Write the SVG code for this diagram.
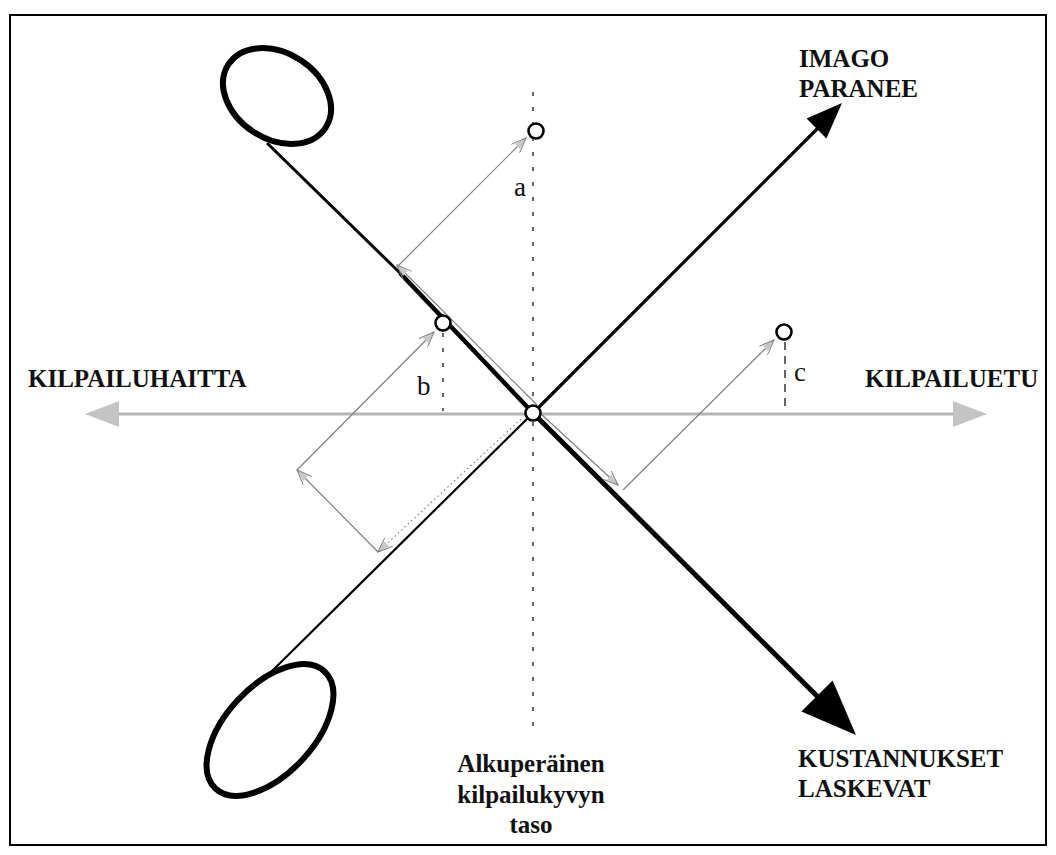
<svg xmlns="http://www.w3.org/2000/svg" width="1056" height="855" viewBox="0 0 1056 855">
<style>
.lbl{font-family:"Liberation Serif","Times New Roman",serif;font-weight:bold;font-size:25px;fill:#111}
.let{font-family:"Liberation Serif","Times New Roman",serif;font-size:27px;fill:#111}
.blk{stroke:#000;fill:none;stroke-linecap:butt}
.thin{stroke:#808080;stroke-width:1.2;fill:none;marker-end:url(#ga)}
.pt{fill:#fff;stroke:#000;stroke-width:2.6}
.dash{stroke:#000;stroke-width:1.2;fill:none;stroke-dasharray:4 11}
</style>
<defs>
<marker id="ga" viewBox="0 0 16 12" refX="15" refY="6" markerWidth="16" markerHeight="12" markerUnits="userSpaceOnUse" orient="auto">
<path d="M3,2.5 L15,6 L3,9.5 Z" fill="#c8c8c8"/>
<path d="M0,0 L15,6 L0,12" fill="none" stroke="#808080" stroke-width="1"/>
</marker>
</defs>
<rect x="10" y="15" width="1036" height="830" fill="#fff" stroke="#000" stroke-width="2"/>

<g id="axis-vertical">
<line class="dash" x1="533" y1="92" x2="533" y2="732"/>
</g>

<g id="axis-horizontal">
<line x1="115" y1="414" x2="957" y2="414" stroke="#b4b4b4" stroke-width="3"/>
<polygon points="85,414 119,401 119,427" fill="#c4c4c4"/>
<polygon points="987,414 953,401 953,427" fill="#c4c4c4"/>
</g>

<g id="loop-top">
<ellipse cx="277" cy="96" rx="58" ry="43" transform="rotate(33 277 96)" fill="none" stroke="#000" stroke-width="6"/>
</g>
<g id="loop-bottom">
<ellipse cx="270" cy="730" rx="80" ry="44" transform="rotate(-47 270 730)" fill="none" stroke="#000" stroke-width="6"/>
</g>

<g id="connectors">
<line class="blk" stroke-width="3" x1="267" y1="143" x2="400" y2="273"/>
<line class="blk" stroke-width="4.5" x1="400" y1="273" x2="533" y2="413"/>
<line class="blk" stroke-width="5" x1="533" y1="413" x2="820" y2="699"/>
<polygon points="856,735 832.6,680.4 801.4,711.6" fill="#000"/>
<line class="blk" stroke-width="2.2" x1="270" y1="673" x2="533" y2="413"/>
<line class="blk" stroke-width="3.2" x1="533" y1="413" x2="819" y2="127"/>
<polygon points="842,103 806.6,118.6 826.4,138.4" fill="#000"/>

<line class="dash" x1="443" y1="333" x2="443" y2="411"/>
<line x1="785" y1="342" x2="785" y2="406" stroke="#000" stroke-width="1.2" stroke-dasharray="8 6"/>

<line class="thin" x1="537" y1="405" x2="397" y2="265"/>
<line class="thin" x1="397" y1="267" x2="526" y2="138"/>
<line class="thin" x1="540" y1="413" x2="618" y2="485"/>
<line class="thin" x1="623" y1="490" x2="774" y2="340"/>
<line class="thin" x1="521" y1="419" x2="378" y2="552" stroke="#333" stroke-width="1.5" stroke-dasharray="1.5 3"/>
<line class="thin" x1="378" y1="552" x2="297" y2="470"/>
<line class="thin" x1="297" y1="470" x2="434" y2="332"/>
</g>

<g id="point-a"><circle class="pt" cx="536" cy="131" r="7.5"/><text class="let" x="514" y="196">a</text></g>
<g id="point-b"><circle class="pt" cx="443" cy="323" r="7.5"/><text class="let" x="417" y="395">b</text></g>
<g id="point-c"><circle class="pt" cx="784" cy="332" r="7.5"/><text class="let" x="794" y="381">c</text></g>
<g id="point-origin"><circle class="pt" cx="533" cy="413" r="7.5"/></g>

<g id="label-imago"><text class="lbl" x="799" y="67">IMAGO</text><text class="lbl" x="799" y="97">PARANEE</text></g>
<g id="label-haitta"><text class="lbl" x="28" y="387">KILPAILUHAITTA</text></g>
<g id="label-etu"><text class="lbl" x="865" y="387">KILPAILUETU</text></g>
<g id="label-kustannukset"><text class="lbl" x="798" y="767">KUSTANNUKSET</text><text class="lbl" x="798" y="797">LASKEVAT</text></g>
<g id="label-taso"><text class="lbl" text-anchor="middle" x="531" y="772">Alkuperäinen</text><text class="lbl" text-anchor="middle" x="531" y="803">kilpailukyvyn</text><text class="lbl" text-anchor="middle" x="531" y="833">taso</text></g>
</svg>
